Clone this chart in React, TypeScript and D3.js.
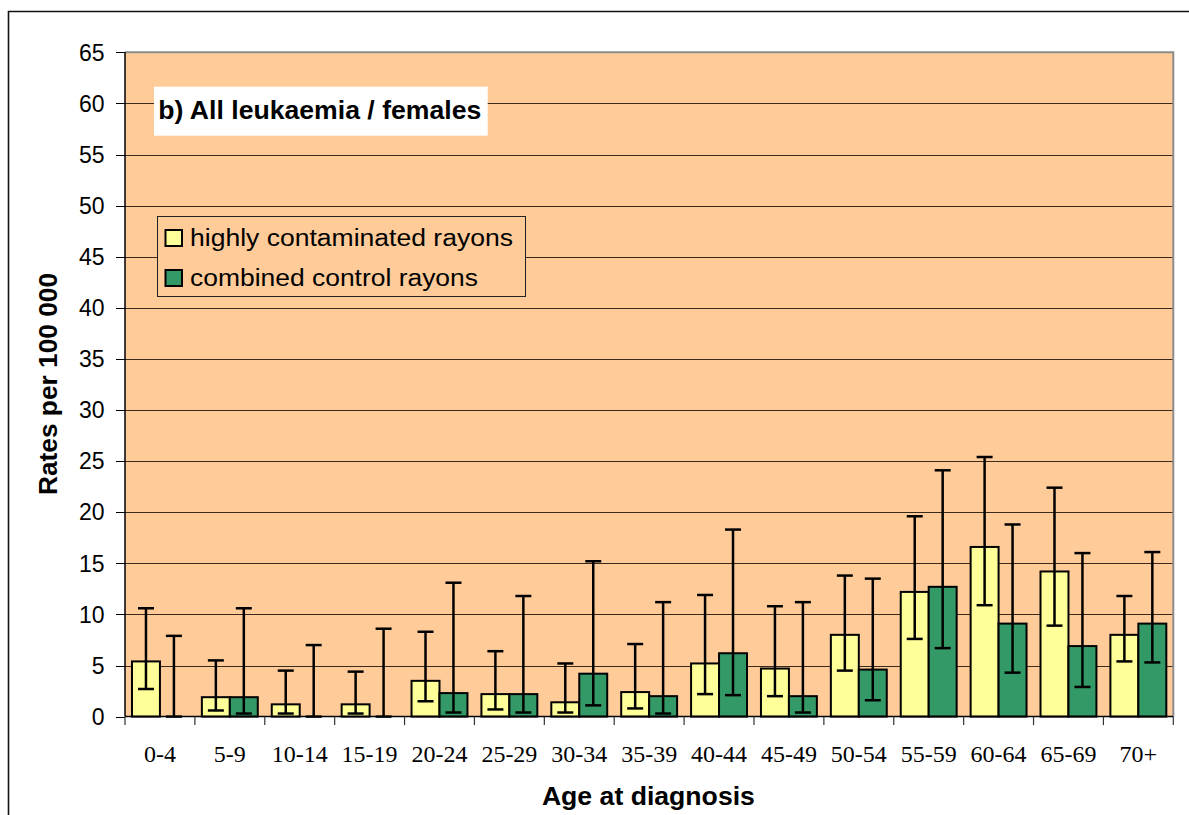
import React from "react";
import * as d3 from "d3";

const categories = ["0-4", "5-9", "10-14", "15-19", "20-24", "25-29", "30-34", "35-39", "40-44", "45-49", "50-54", "55-59", "60-64", "65-69", "70+"];
const highlyValues = [5.4, 1.9, 1.2, 1.2, 3.5, 2.2, 1.4, 2.4, 5.2, 4.7, 8.0, 12.2, 16.6, 14.2, 8.0];
const highlyLow = [2.7, 0.6, 0.3, 0.3, 1.5, 0.7, 0.4, 0.8, 2.2, 2.0, 4.5, 7.6, 10.9, 8.9, 5.4];
const highlyHigh = [10.6, 5.5, 4.5, 4.4, 8.3, 6.4, 5.2, 7.1, 11.9, 10.8, 13.8, 19.6, 25.4, 22.4, 11.8];
const controlValues = [0, 1.9, 0, 0, 2.3, 2.2, 4.2, 2.0, 6.2, 2.0, 4.6, 12.7, 9.1, 6.9, 9.1];
const controlLow = [0, 0.3, 0, 0, 0.4, 0.4, 1.1, 0.3, 2.1, 0.4, 1.6, 6.7, 4.3, 2.9, 5.3];
const controlHigh = [7.9, 10.6, 7.0, 8.6, 13.1, 11.8, 15.2, 11.2, 18.3, 11.2, 13.5, 24.1, 18.8, 16.0, 16.1];
const yTicks = [0, 5, 10, 15, 20, 25, 30, 35, 40, 45, 50, 55, 60, 65];
const seriesNames = ["highly contaminated rayons", "combined control rayons"];
const title = "b) All leukaemia / females";
const xTitle = "Age at diagnosis";
const yTitle = "Rates per 100 000";

const W = 1189;
const H = 815;
const plot = { left: 125, right: 1173.3, top: 52.3, bottom: 716.6 };
const colors = { bg: "#FFCC99", yellow: "#FFFF99", green: "#339966" };
const SANS = "'Liberation Sans', Arial, sans-serif";
const SERIF = "'Liberation Serif', 'Times New Roman', serif";

export default function App() {
  const x = d3.scaleBand<string>().domain(categories).range([plot.left, plot.right]).paddingInner(0.2).paddingOuter(0.1);
  const sub = d3.scaleBand<number>().domain([0, 1]).range([0, x.bandwidth()]);
  const y = d3.scaleLinear().domain([0, 65]).range([plot.bottom, plot.top]);
  const step = x.step();

  const series = [
    { vals: highlyValues, lo: highlyLow, hi: highlyHigh, color: colors.yellow },
    { vals: controlValues, lo: controlLow, hi: controlHigh, color: colors.green },
  ];

  const crisp = (v: number) => Math.round(v) + 0.5;

  return (
    <svg width={W} height={H} style={{ position: "absolute", left: 0, top: 0, display: "block" }}>
      <rect x={0} y={0} width={W} height={H} fill="#fff" />
      {/* outer frame */}
      <path d={`M8.5,${H} V11.5 H${W}`} fill="none" stroke="#111" strokeWidth={1.6} />
      {/* plot background */}
      <rect x={plot.left} y={plot.top} width={plot.right - plot.left} height={plot.bottom - plot.top} fill={colors.bg} />
      {/* gridlines */}
      {yTicks.filter((t) => t > 0 && t < 65).map((t) => (
        <line key={"g" + t} x1={plot.left} x2={plot.right} y1={crisp(y(t))} y2={crisp(y(t))} stroke="#3a2a1a" strokeWidth={1} />
      ))}
      {/* plot border top/right */}
      <path d={`M${plot.left},${plot.top} H${plot.right} V${plot.bottom}`} fill="none" stroke="#8c8c8c" strokeWidth={2} />
      {/* bars */}
      {series.map((s, si) =>
        categories.map((c, i) => {
          const v = s.vals[i];
          if (v <= 0) return null;
          const bx = (x(c) as number) + (sub(si) as number);
          return (
            <rect key={`b${si}-${i}`} x={bx} y={y(v)} width={sub.bandwidth()} height={y(0) - y(v)} fill={s.color} stroke="#000" strokeWidth={2} />
          );
        })
      )}
      {/* error bars */}
      {series.map((s, si) =>
        categories.map((c, i) => {
          const cx = (x(c) as number) + (sub(si) as number) + sub.bandwidth() / 2;
          const yl = y(s.lo[i]);
          const yh = y(s.hi[i]);
          return (
            <g key={`e${si}-${i}`} stroke="#000" strokeWidth={2.5}>
              <line x1={cx} x2={cx} y1={yl} y2={yh} />
              <line x1={cx - 8} x2={cx + 8} y1={yh} y2={yh} />
              <line x1={cx - 8} x2={cx + 8} y1={yl} y2={yl} />
            </g>
          );
        })
      )}
      {/* axes */}
      <line x1={plot.left} x2={plot.left} y1={plot.top} y2={plot.bottom} stroke="#000" strokeWidth={1.5} />
      <line x1={plot.left} x2={plot.right} y1={plot.bottom} y2={plot.bottom} stroke="#000" strokeWidth={1.5} />
      {yTicks.map((t) => (
        <g key={"yt" + t}>
          <line x1={116} x2={plot.left} y1={crisp(y(t))} y2={crisp(y(t))} stroke="#000" strokeWidth={1} />
          <text x={104.5} y={y(t)} dy="0.36em" textAnchor="end" fontFamily={SANS} fontSize={23} fill="#000">
            {t}
          </text>
        </g>
      ))}
      {d3.range(categories.length + 1).map((k) => {
        const tx = plot.left + k * step;
        return <line key={"xt" + k} x1={tx} x2={tx} y1={plot.bottom} y2={plot.bottom + 8.5} stroke="#333" strokeWidth={1.2} />;
      })}
      {categories.map((c) => (
        <text key={"xl" + c} x={(x(c) as number) + x.bandwidth() / 2} y={761.5} textAnchor="middle" fontFamily={SERIF} fontSize={24} fill="#000">
          {c}
        </text>
      ))}
      {/* axis titles */}
      <text x={648.4} y={805} textAnchor="middle" fontFamily={SANS} fontWeight="bold" fontSize={25} textLength={213} lengthAdjust="spacingAndGlyphs" fill="#000">
        {xTitle}
      </text>
      <text transform="translate(56.5,384) rotate(-90)" textAnchor="middle" fontFamily={SANS} fontWeight="bold" fontSize={25} textLength={222} lengthAdjust="spacingAndGlyphs" fill="#000">
        {yTitle}
      </text>
      {/* title box */}
      <rect x={154} y={86.7} width={333.7} height={49} fill="#fff" />
      <text x={158.3} y={119.3} fontFamily={SANS} fontWeight="bold" fontSize={25} textLength={323} lengthAdjust="spacingAndGlyphs" fill="#000">
        {title}
      </text>
      {/* legend */}
      <rect x={157.5} y={216.5} width={368} height={80} fill={colors.bg} stroke="#222" strokeWidth={1} />
      {seriesNames.map((n, i) => (
        <g key={"lg" + i}>
          <rect x={165.5} y={230 + i * 40} width={16.5} height={16} fill={series[i].color} stroke="#000" strokeWidth={2} />
          <text x={190} y={245.5 + i * 40} fontFamily={SANS} fontSize={23} textLength={i === 0 ? 323 : 288} lengthAdjust="spacingAndGlyphs" fill="#000">
            {n}
          </text>
        </g>
      ))}
    </svg>
  );
}
